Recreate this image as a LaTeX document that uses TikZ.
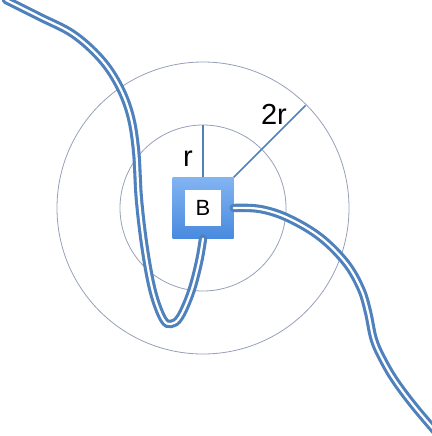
\documentclass[tikz,border=0pt]{standalone}
\usepackage{fontspec}
\setmainfont{Liberation Sans}
\usetikzlibrary{calc}
\definecolor{cable}{RGB}{79,129,189}
\definecolor{ring}{RGB}{150,160,185}
\definecolor{boxtop}{RGB}{130,180,242}
\definecolor{boxbot}{RGB}{72,138,222}
\tikzset{
  cablestyle/.style={draw=cable, line width=3.1pt, double=white, double distance=2.2pt, line cap=round},
  ringstyle/.style={draw=ring, line width=0.8pt},
  radline/.style={draw=cable, line width=1.5pt},
  biglabel/.style={font=\fontsize{29}{30}\selectfont, text=black, inner sep=0pt},
}
\begin{document}
\begin{tikzpicture}[x=1pt,y=-1pt]
\useasboundingbox (0,0) rectangle (431,436);
\coordinate (c) at (203,208);
% rings
\draw[ringstyle] (c) circle (83);
\draw[ringstyle] (c) circle (146);
% box
\node[minimum size=61pt, inner sep=0pt, top color=boxtop, bottom color=boxbot, draw=none] (B) at (c) {};
\node[minimum size=36pt, inner sep=0pt, fill=white, font=\fontsize{22}{24}\selectfont] (Bin) at (c) {B};
% cables
\draw[cablestyle] plot[smooth, tension=0.6] coordinates {(6,0) (40,17) (73,34) (100,58) (118,84) (130,114) (136,150) (139,200) (145,250) (153,292) (163,319) (171,324) (180,317) (191,292) (199,262) (B.south)};
\draw[cablestyle] plot[smooth, tension=0.6] coordinates {(B.east) (260,209) (288,218) (320,237) (346,263) (361,289) (368,312) (374,340) (384,362) (396,382) (414,406) (436,432)};
% radius lines
\coordinate (rtop) at ($(c)+(0,-83)$);
\coordinate (rr) at ($(c)+(102.5,-102.5)$);
\draw[radline] (B.north) -- (rtop);
\draw[radline] (B.north east) -- (rr);
\node[biglabel] (rl) at (188,159) {r};
\node[biglabel] (rrl) at (274,114) {2r};
\end{tikzpicture}
\end{document}
